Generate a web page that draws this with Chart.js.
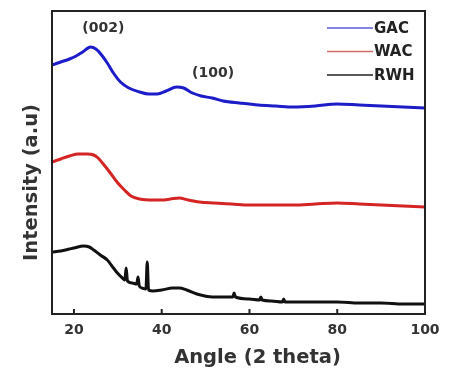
<!DOCTYPE html>
<html>
<head>
<meta charset="utf-8">
<script src="https://cdn.jsdelivr.net/npm/chart.js@4.4.1/dist/chart.umd.min.js"></script>
<style>
  html, body { margin: 0; padding: 0; background: #fff; }
  #wrap { width: 449px; height: 370px; position: relative; }
</style>
</head>
<body>
<div id="wrap"><canvas id="xrdChart"></canvas></div>
<script>
// XRD patterns (intensity in arbitrary units, stacked)
var gacAngle = [15, 17, 19, 20.5, 22, 23.8, 25, 26.3, 27.6, 29, 30.6, 32.5, 35, 37, 39, 41, 43.4, 45, 47, 49, 51.5, 54, 57.7, 62, 66, 70, 75, 80, 85, 90, 95, 100];
var gacIntensity = [249, 252, 255, 258, 262, 267, 265, 259, 251, 241, 232, 226, 222, 220, 220, 223, 227, 226, 221, 218, 216, 213, 211, 209, 208, 207, 208, 210, 209, 208, 207, 206];

var wacAngle = [15, 17, 19, 21, 23, 24.5, 25.5, 26.5, 28.3, 30, 31.5, 33, 35, 38, 40, 42, 44, 46, 48.6, 52, 56, 60, 65, 70, 75, 80, 85, 90, 95, 100];
var wacIntensity = [152, 155, 158, 160, 160, 159, 156, 151, 141, 131, 124, 118, 115, 114, 114, 115, 116, 114, 112, 111, 110, 109, 109, 109, 110, 111, 110, 109, 108, 107];

var rwhAngle = [15, 17, 19, 20, 22.2, 23.5, 24.5, 26, 27.6, 29, 29.9, 31.3, 31.6, 31.9, 32.2, 33.3, 34.3, 34.6, 34.9, 35.5, 36.4, 36.7, 37, 38, 40, 42.5, 44, 45.7, 48, 51.6, 54, 56.2, 56.5, 56.8, 60, 62.3, 62.6, 62.9, 65, 67.5, 67.8, 68.1, 72, 80, 85, 90, 95, 100];
var rwhIntensity = [62, 63, 65, 66, 68, 67, 64, 59, 54, 46, 41, 35, 34, 46, 33, 31, 30, 37, 28, 26, 25, 52, 24, 23, 24, 26, 26, 24, 20, 17, 17, 17, 21, 17, 15, 14, 17, 14, 13, 12, 15, 12, 12, 12, 11, 11, 10, 10];

var seriesNames = ["GAC", "WAC", "RWH"];
var seriesColors = ["#1c1cc8", "#d42424", "#111111"];
var legendColors = ["#5a5ad6", "#d46a6a", "#222222"];

var xTicks = [20, 40, 60, 80, 100];

// peak labels
var peakLabels = ["(002)", "(100)"];
var peakAngle = [26.7, 51.7];
var peakIntensity = [286, 241];

function toPoints(xs, ys) {
  var pts = [];
  for (var i = 0; i < xs.length; i++) {
    pts.push({ x: xs[i], y: ys[i] });
  }
  return pts;
}

var angleData = [gacAngle, wacAngle, rwhAngle];
var intensityData = [gacIntensity, wacIntensity, rwhIntensity];

var datasets = seriesNames.map(function (name, i) {
  return {
    label: name,
    data: toPoints(angleData[i], intensityData[i]),
    borderColor: seriesColors[i],
    borderWidth: 3,
    pointRadius: 0,
    fill: false,
    cubicInterpolationMode: 'monotone'
  };
});

var boldFont = "bold 14px 'DejaVu Sans'";

// Frame, inward ticks, legend, peak labels and axis titles
var decorPlugin = {
  id: 'decor',
  afterDraw: function (chart) {
    var ctx = chart.ctx;
    var area = chart.chartArea;
    var xScale = chart.scales.x;
    var yScale = chart.scales.y;

    ctx.save();

    // frame
    ctx.strokeStyle = '#222';
    ctx.lineWidth = 2;
    ctx.strokeRect(area.left, area.top, area.right - area.left, area.bottom - area.top);

    // inward tick marks on bottom axis
    ctx.lineWidth = 2;
    xTicks.forEach(function (v) {
      var px = xScale.getPixelForValue(v);
      ctx.beginPath();
      ctx.moveTo(px, area.bottom);
      ctx.lineTo(px, area.bottom - 5);
      ctx.stroke();
    });

    // legend
    ctx.font = "bold 15px 'DejaVu Sans'";
    ctx.textBaseline = 'middle';
    ctx.textAlign = 'left';
    chart.data.datasets.forEach(function (ds, i) {
      var y = area.top + 17 + i * 23.5;
      ctx.strokeStyle = legendColors[i];
      ctx.lineWidth = 1.6;
      ctx.beginPath();
      ctx.moveTo(area.right - 98, y);
      ctx.lineTo(area.right - 52, y);
      ctx.stroke();
      ctx.fillStyle = '#222';
      ctx.fillText(ds.label, area.right - 51, y + 1);
    });

    // peak labels
    ctx.font = boldFont;
    ctx.textAlign = 'center';
    ctx.fillStyle = '#333';
    peakLabels.forEach(function (t, i) {
      ctx.fillText(t, xScale.getPixelForValue(peakAngle[i]), yScale.getPixelForValue(peakIntensity[i]));
    });

    // axis titles
    ctx.font = "bold 19.5px 'DejaVu Sans'";
    ctx.fillStyle = '#333';
    ctx.textBaseline = 'alphabetic';
    ctx.fillText('Angle (2 theta)', (area.left + area.right) / 2 + 19, 363);

    ctx.translate(37, (area.top + area.bottom) / 2 + 20);
    ctx.rotate(-Math.PI / 2);
    ctx.fillText('Intensity (a.u)', 0, 0);

    ctx.restore();
  }
};

var xrdChart = new Chart(document.getElementById('xrdChart'), {
  type: 'line',
  data: { datasets: datasets },
  options: {
    responsive: true,
    maintainAspectRatio: false,
    animation: false,
    layout: {
      padding: { top: 11, right: 24, left: 0, bottom: 0 }
    },
    plugins: {
      legend: { display: false },
      tooltip: { enabled: false }
    },
    scales: {
      x: {
        type: 'linear',
        min: 15,
        max: 100,
        afterBuildTicks: function (scale) {
          scale.ticks = xTicks.map(function (v) { return { value: v }; });
        },
        afterFit: function (scale) {
          scale.height = 56;
        },
        grid: { display: false, drawTicks: false },
        border: { display: false },
        ticks: {
          maxRotation: 0,
          padding: 8,
          color: '#333',
          font: { family: 'DejaVu Sans', size: 14, weight: 'bold' }
        }
      },
      y: {
        min: 0,
        max: 303,
        afterFit: function (scale) {
          scale.width = 52;
        },
        grid: { display: false, drawTicks: false },
        border: { display: false },
        ticks: { display: false }
      }
    }
  },
  plugins: [decorPlugin]
});
</script>
</body>
</html>
